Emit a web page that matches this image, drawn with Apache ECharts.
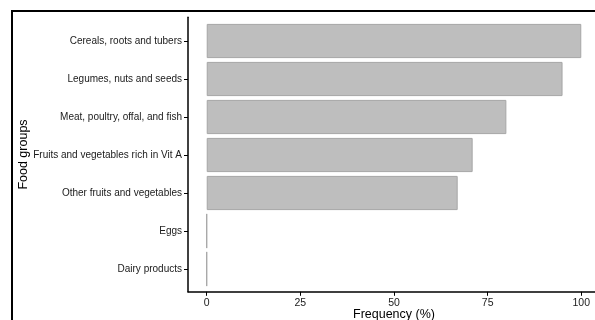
<!DOCTYPE html>
<html>
<head>
<meta charset="utf-8">
<script src="https://cdn.jsdelivr.net/npm/echarts@6/dist/echarts.min.js"></script>
<style>
html,body{margin:0;padding:0;background:#fff;}
#wrap{position:relative;width:595px;height:320px;overflow:hidden;}
#frame{position:absolute;left:11px;top:10px;width:700px;height:400px;border:2px solid #000;box-sizing:border-box;}
#chart{position:absolute;left:0;top:0;width:595px;height:320px;}
</style>
</head>
<body>
<div id="wrap"><div id="frame"></div><div id="chart"></div></div>
<script>
const categories = ["Cereals, roots and tubers","Legumes, nuts and seeds","Meat, poultry, offal, and fish","Fruits and vegetables rich in Vit A","Other fruits and vegetables","Eggs","Dairy products"];
const frequency = [100, 95, 80, 71, 67, 0, 0];
const xTicks = [0, 25, 50, 75, 100];

const font = '"Liberation Sans", Arial, Helvetica, sans-serif';
const chart = echarts.init(document.getElementById('chart'), null, {renderer:'canvas'});
chart.setOption({
  animation:false,
  backgroundColor:'transparent',
  grid:[
    {left:188, top:22, width:412, height:266, outerBoundsMode:'none', containLabel:false},
    {left:188, top:17.2, width:412, height:274.6, outerBoundsMode:'none', containLabel:false}
  ],
  xAxis:[
    {gridIndex:0, type:'value', min:-5, max:105, show:false},
    {gridIndex:1, type:'value', min:-5, max:105,
     name:'Frequency (%)', nameLocation:'middle', nameGap:16, nameMoveOverlap:false,
     nameTextStyle:{fontFamily:font, fontSize:12.5, color:'#000'},
     axisLine:{show:true, onZero:false, lineStyle:{color:'#000', width:1.5}},
     axisTick:{show:true, length:4, lineStyle:{color:'#000', width:1}, customValues:xTicks},
     axisLabel:{fontFamily:font, fontSize:10.5, color:'#1a1a1a', margin:6, customValues:xTicks},
     splitLine:{show:false}}
  ],
  yAxis:[
    {gridIndex:0, type:'category', data:categories, inverse:true,
     axisLine:{show:false, onZero:false},
     axisTick:{show:true, alignWithLabel:true, length:4, lineStyle:{color:'#000', width:1}},
     axisLabel:{fontFamily:font, fontSize:10, color:'#1a1a1a', margin:6}},
    {gridIndex:1, type:'value', min:0, max:1,
     name:'Food groups', nameLocation:'middle', nameGap:158, nameMoveOverlap:false,
     nameTextStyle:{fontFamily:font, fontSize:12.5, color:'#000'},
     axisLine:{show:true, onZero:false, lineStyle:{color:'#000', width:1.5}},
     axisTick:{show:false}, axisLabel:{show:false}, splitLine:{show:false}}
  ],
  series:[{
    type:'bar', xAxisIndex:0, yAxisIndex:0,
    data:frequency, barWidth:'90%',
    itemStyle:{color:'#BEBEBE', borderColor:'#A6A6A6', borderWidth:1}
  }]
});
</script>
</body>
</html>
